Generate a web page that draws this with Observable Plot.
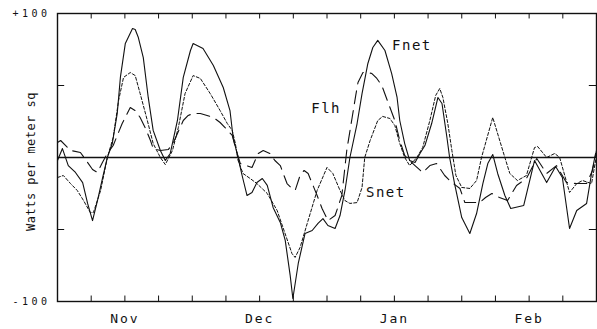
<!DOCTYPE html>
<html><head><meta charset="utf-8">
<script src="https://cdn.jsdelivr.net/npm/d3@7"></script>
<script src="https://cdn.jsdelivr.net/npm/@observablehq/plot@0.6"></script>
<style>
body{margin:0;background:#fff}
svg text{font-family:"DejaVu Sans Mono",monospace;fill:#111}
</style>
</head><body><div id="chart"></div>
<script>
// Days since start of record (x) and Watts per square meter (y)
const fnetDay = [0,1.1,2.4,4,5.6,6.7,7.8,8.9,10,11.1,12.2,13.3,14,15.1,16.7,17.3,18,19.1,20.2,21.3,22.9,24,25.1,26.7,28,29.6,30.2,32.4,34.7,36.9,38.4,39.1,40.2,41.1,42.2,43.3,44.4,45.6,46.7,48,49.6,50.7,51.8,52.4,53.6,55.1,56.7,58,59.1,60.2,61.8,62.9,64,65.1,66.7,67.8,69.1,70.2,71.3,72.9,74.4,75.6,76.2,77.3,78.4,79.6,80.7,81.8,83.3,84.7,85.6,86.7,87.3,88.4,90,91.8,93.3,94.7,95.8,96.9,98,99.6,100.9,103.8,106.2,108.9,110.9,112.4,114,115.6,117.8,118.9,119.8];
const fnetVal = [-2.1,6.2,-5.6,-10.4,-17.4,-31.9,-43.8,-29.9,-14.6,0,9.7,30.6,55.6,79.2,89.6,88.9,83.3,69.4,41.7,18.8,4.9,-2.1,2.8,25.7,55.6,74.3,79.2,75.7,63.9,48.6,32.6,13.9,0,-12.5,-26.4,-24.3,-17.4,-14.6,-19.4,-34.7,-45.1,-57.6,-81.9,-97.9,-73.6,-52.8,-50.7,-45.8,-42.4,-47.2,-49.3,-40.3,-22.9,0,23.6,44.4,65.3,76.4,81.3,74.3,58.3,41.7,25.7,9.7,-2.1,-3.5,2.8,8.3,23.6,41.7,37.5,13.9,0,-18.1,-41.7,-52.8,-38.9,-18.1,-4.2,2.1,-11.1,-26.4,-35.4,-33.3,-2.1,-17.4,-6.3,-13.9,-49.3,-36.8,-31.9,-11.1,2.8];

const snetDay = [0,1.3,2.9,4.4,5.8,7.3,8,9.6,11.1,12.4,13.6,14.7,16.2,17.3,18.4,20,21.3,22.9,24,25.6,26.9,28.4,30.2,31.8,34,36.2,37.8,38.9,39.6,40.2,41.3,42.9,44.4,46.7,48.9,50.2,52.2,52.9,54,55.6,57.8,60,61.3,62.9,64,65.1,66.7,67.8,68.4,69.6,71.3,72.4,74,75.1,76.2,77.3,78.4,80,81.3,82.9,84.2,85.1,85.8,86.9,87.8,88.7,90,91.8,93.3,94.4,96.9,99.6,100.7,102.4,104.4,106.2,106.9,108.9,110.7,111.8,114,115.6,116.9,118.9,120];
const snetVal = [-13.9,-12.5,-18.1,-22.9,-29.9,-38.2,-38.2,-22.9,0,13.9,39.6,55.6,59,56.9,44.4,25.7,9.7,0,-4.9,4.9,20.8,44.4,56.9,54.9,44.4,32.6,23.6,18.8,9.7,-2.1,-11.1,-14.6,-18.1,-25,-36.8,-48.6,-66.7,-69.4,-62.5,-45.8,-22.9,-6.9,-11.1,-22.9,-29.9,-31.9,-31.3,-20.8,0,11.8,25.7,28.5,27.1,22.2,9.7,0,-5.6,0,6.9,25.7,43.1,47.9,41.7,23.6,4.9,-12.5,-20.8,-21.5,-16,0,27.8,0,-11.1,-16,-12.5,6.9,7.6,0,2.8,0,-24.3,-18.1,-16,-18.1,1.4];

const flhDay = [0,0.7,2.9,5.1,6.4,7.8,8.9,10,11.1,12.4,13.3,14.4,15.3,16.2,17.3,18.4,19.6,20.7,21.3,22.9,24.7,25.8,26.9,28,29.1,30.2,31.8,33.3,34.7,36.2,37.3,38.9,39.8,40.7,42,43.3,44.7,45.8,47.3,48.4,49.6,51.1,52,52.9,54,54.9,55.8,57.8,58.9,60.2,61.8,63.3,64.4,65.6,66.4,66.9,68,69.1,70,71.1,72.2,73.6,75.1,76.2,77.3,78.4,79.6,81.3,82.9,84.4,86.2,87.8,89.6,90.7,92.2,94,95.3,96.7,98.4,100.2,102.2,104.4,106.7,108.9,111.1,113.3,115.6,117.8,119.1,120];
const flhVal = [10.4,11.8,4.9,3.5,-2.1,-8.3,-10.4,-3.5,2.8,8.3,15.3,23.6,29.2,34.7,32.6,27.8,20.1,11.8,6.2,4.9,5.6,10.4,18.1,25.7,29.2,30.6,30.6,29.2,27.8,24.3,20.8,15.3,4.9,-4.2,-5.6,-6.9,2.8,4.9,2.8,-2.1,-5.6,-18.1,-20.8,-22.9,-12.5,-9,-11.1,-26.4,-35.4,-43.8,-40.3,-26.4,4.9,27.8,43.1,52.1,59,59,58.3,54.9,50,38.2,25.7,11.8,1.4,-2.1,-5.6,-10.4,-5.6,-4.2,-12.5,-17.4,-21.5,-31.3,-31.3,-31.3,-27.8,-25,-27.8,-29.9,-19.4,-14.6,-0.7,-11.1,-5.6,-17.4,-18.1,-18.1,-9,4.9];

const weekTicks = [7.5,15,22.5,30,37.5,45,52.5,60,67.5,75,82.5,90,97.5,105,112.5];
const monthTicks = [15,45,75,105];
const monthLabels = ["Nov","Dec","Jan","Feb"];
const yEndTicks = [-100,100];
const yEndLabels = ["-100","+100"];
const yMidTicks = [-50,50];
const yTitle = "Watts per meter sq";
const seriesNames = ["Fnet","Flh","Snet"];
const nameDay = [78.9,59.8,73.1];
const nameVal = [77.8,34,-24.3];

const rows = (days, vals) => days.map((d,i)=>({day:d, value:vals[i]}));
const fnet = rows(fnetDay, fnetVal);
const snet = rows(snetDay, snetVal);
const flh = rows(flhDay, flhVal);
const names = seriesNames.map((n,i)=>({name:n, day:nameDay[i], value:nameVal[i]}));

const chart = Plot.plot({
  width: 597, height: 329,
  marginLeft: 57, marginRight: 1, marginTop: 13, marginBottom: 28,
  x: {domain: [0,120]},
  y: {domain: [-100,100]},
  marks: [
    Plot.ruleY([0], {stroke:"#111", strokeWidth:1.6}),
    Plot.line(snet, {x:"day", y:"value", stroke:"#111", strokeWidth:1, strokeDasharray:"3,2"}),
    Plot.line(flh, {x:"day", y:"value", stroke:"#111", strokeWidth:1.1, strokeDasharray:"13,7"}),
    Plot.line(fnet, {x:"day", y:"value", stroke:"#111", strokeWidth:1.1}),
    Plot.frame({stroke:"#111", strokeWidth:1.4}),
    Plot.ruleX(weekTicks, {y1:-100, y2:-96.2, stroke:"#111"}),
    Plot.ruleX(weekTicks, {y1:100, y2:96.2, stroke:"#111"}),
    Plot.ruleY(yMidTicks, {x1:0, x2:1.6, stroke:"#111"}),
    Plot.ruleY(yMidTicks, {x1:118.4, x2:120, stroke:"#111"}),
    Plot.axisX(monthTicks, {tickSize:0, tickPadding:12, tickFormat: d => monthLabels[monthTicks.indexOf(d)], label:null, fontSize:13}),
    Plot.axisY(yEndTicks, {tickSize:0, tickPadding:7, tickFormat: d => yEndLabels[yEndTicks.indexOf(d)], label:null, fontSize:10}),
    Plot.text([yTitle], {frameAnchor:"left", textAnchor:"middle", rotate:-90, dx:-26, dy:4, fontSize:12}),
    Plot.text(names, {x:"day", y:"value", text:"name", fontSize:14})
  ]
});
document.getElementById("chart").appendChild(chart);
const svg = d3.select(chart);
svg.selectAll('g[aria-label="x-axis tick label"] text').style("letter-spacing","2px");
svg.selectAll('g[aria-label="y-axis tick label"] text').style("letter-spacing","3.5px");
svg.selectAll('g[aria-label="text"] text').style("letter-spacing","1.5px");
svg.selectAll('g[aria-label="text"] text').filter(function(){return this.textContent===yTitle;}).style("letter-spacing","0.5px");
</script>
</body></html>
